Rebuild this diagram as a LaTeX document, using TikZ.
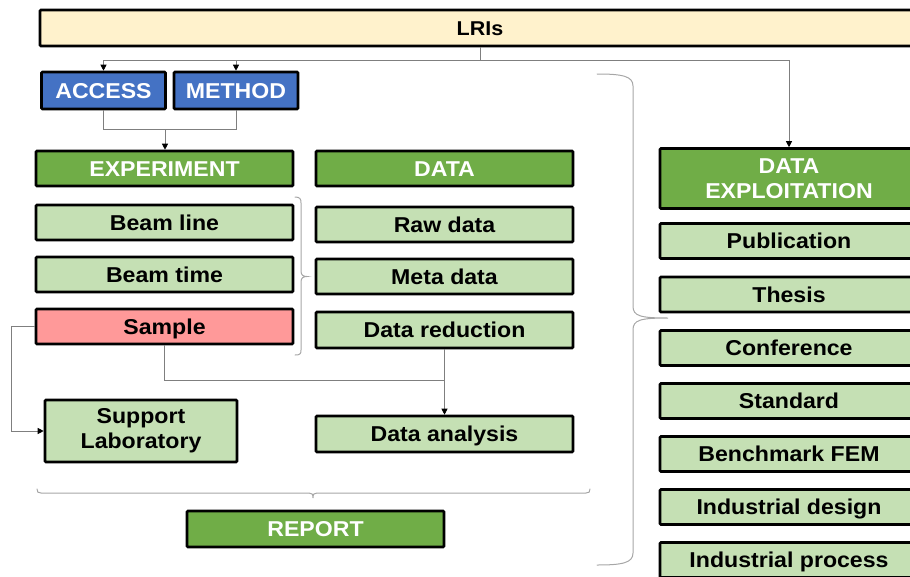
\documentclass[tikz,border=0pt]{standalone}
\usepackage{fontspec}
\setmainfont{Liberation Sans}[FakeStretch=1.075]
\usetikzlibrary{arrows.meta}
\definecolor{lriyellow}{HTML}{FFF2CC}
\definecolor{hdblue}{HTML}{4472C4}
\definecolor{hdgreen}{HTML}{70AD47}
\definecolor{itgreen}{HTML}{C5E0B4}
\definecolor{itred}{HTML}{FF9999}
\definecolor{lnk}{HTML}{7F7F7F}
\definecolor{brc}{HTML}{A6A6A6}
\tikzset{
  box/.style={draw=black, line width=2.6pt, rounded corners=1pt, align=center,
    inner sep=0pt, minimum height=35pt, minimum width=257pt,
    font=\fontsize{21.5}{25}\selectfont\bfseries},
  oneline/.style={text height=15.4pt, text depth=0pt},
  head/.style={box, oneline, fill=hdgreen, text=white},
  blue/.style={box, oneline, fill=hdblue, text=white, minimum width=124pt, minimum height=37pt},
  item/.style={box, oneline, fill=itgreen, text=black},
  twoline/.style={text height=, text depth=},
  conn/.style={draw=lnk, line width=0.9pt},
  arr/.style={conn, -{Triangle[length=6pt,width=6pt,color=black]}},
  brace/.style={draw=brc, line width=1pt, line cap=round}
}
\begin{document}
\begin{tikzpicture}[x=1pt, y=-1pt]
\useasboundingbox (0,0) rectangle (910,576);
\clip (0,0) rectangle (910,576);

% top bar
\node[box, oneline, fill=lriyellow, minimum width=880pt, minimum height=36pt,
      text height=14.5pt, font=\fontsize{20}{24}\selectfont\bfseries] (lri) at (480,28) {LRIs};

% access / method
\node[blue] (access) at (103.5,90.5) {ACCESS};
\node[blue] (method) at (236,90.5) {METHOD};

% left column
\node[head] (exp) at (164.5,168.5) {EXPERIMENT};
\node[item] (bline) at (164.5,222.5) {Beam line};
\node[item] (btime) at (164.5,274.5) {Beam time};
\node[item, fill=itred] (sample) at (164.5,326.5) {Sample};
\node[box, fill=itgreen, minimum width=192pt, minimum height=62pt] (support) at (141,431) {Support\\Laboratory};

% middle column
\node[head] (data) at (444.5,168.5) {DATA};
\node[item] (raw) at (444.5,224.5) {Raw data};
\node[item] (meta) at (444.5,276.5) {Meta data};
\node[item, minimum height=36pt] (red) at (444.5,330) {Data reduction};
\node[item, minimum height=36pt] (ana) at (444.5,434) {Data analysis};
\node[head, minimum height=36pt] (report) at (315.5,529) {REPORT};

% right column
\node[box, fill=hdgreen, text=white, minimum width=258pt, minimum height=60pt] (dexp) at (789,178.5) {DATA\\EXPLOITATION};
\node[item, minimum width=258pt] (pub) at (789,241) {Publication};
\node[item, minimum width=258pt] (thesis) at (789,294.5) {Thesis};
\node[item, minimum width=258pt] (conf) at (789,348) {Conference};
\node[item, minimum width=258pt] (std) at (789,401) {Standard};
\node[item, minimum width=258pt] (fem) at (789,454) {Benchmark FEM};
\node[item, minimum width=258pt] (idesign) at (789,507) {Industrial design};
\node[item, minimum width=258pt] (iproc) at (789,560) {Industrial process};

% connectors
\coordinate (split) at (480,60);
\coordinate (merge) at (165,129);
\coordinate (join) at (444.5,380);
\draw[conn] (lri.south) -- (split);
\draw[arr] (split) -| (access.north);
\draw[arr] (split) -| (method.north);
\draw[arr] (split) -| (dexp.north);
\draw[conn] (access.south) |- (merge);
\draw[conn] (method.south) |- (merge);
\draw[arr] (merge) -- (merge |- exp.north);
\draw[arr] (sample.west) -- ++(-23,0) |- (support.west);
\draw[conn] (sample.south) |- (join);
\draw[arr] (red.south) -- (ana.north);

% brace beside the experiment items
\draw[brace] (295,197) .. controls (300,197) and (301,199) .. (301,203)
  -- (301,271) .. controls (301,275) and (303,276.5) .. (307,276.5)
  .. controls (303,276.5) and (301,278) .. (301,282)
  -- (301,350) .. controls (301,354) and (300,355) .. (295,355);

% brace over the report
\draw[brace] (37,489) .. controls (37,492) and (38,493) .. (41,493)
  -- (309,493) .. controls (312,493) and (313,494) .. (313,498)
  .. controls (313,494) and (314,493) .. (317,493)
  -- (586,493) .. controls (589,493) and (590,492) .. (590,489);

% large brace towards data exploitation
\draw[brace] (597,74) .. controls (622,74) and (633,76) .. (633,86)
  -- (633,306) .. controls (633,316) and (640,318) .. (668,318)
  .. controls (640,318) and (633,320) .. (633,330)
  -- (633,553) .. controls (633,563) and (622,565) .. (597,565);
\end{tikzpicture}
\end{document}
